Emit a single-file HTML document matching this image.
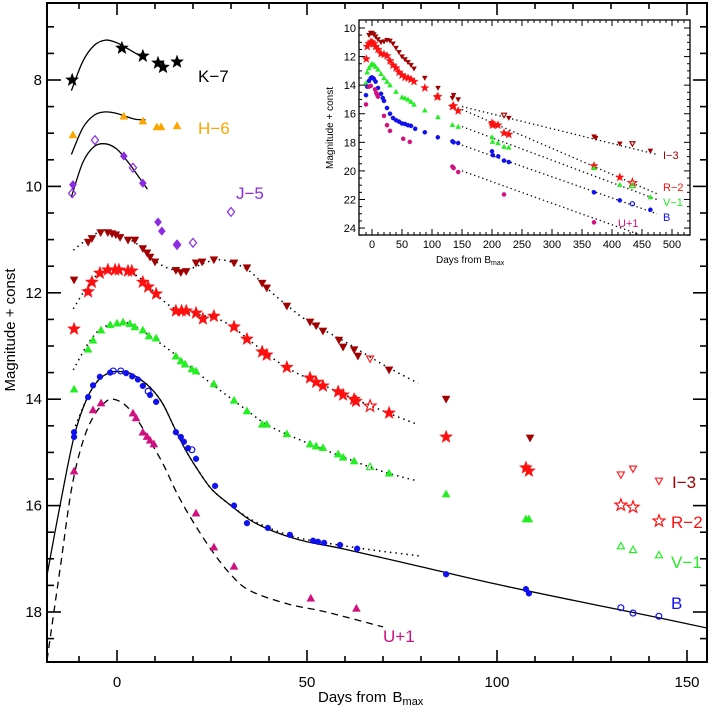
<!DOCTYPE html>
<html><head><meta charset="utf-8"><style>
html,body{margin:0;padding:0;background:#fff}
svg{display:block;font-family:"Liberation Sans",sans-serif}
</style></head><body>
<svg id="chart" width="710" height="709" viewBox="0 0 710 709" xmlns="http://www.w3.org/2000/svg">
<defs>
<clipPath id="mainClip"><rect x="47" y="3" width="660" height="659"/></clipPath>
<clipPath id="insetClip"><rect x="359" y="20" width="331" height="215"/></clipPath>
</defs>
<g id="main"></g>
<g id="inset"></g>
</svg>
<script>
// ---------- MAIN DATA ----------
const kDays=[-11.8,1.3,6.8,10.8,12.1,15.8];
const kMags=[8.0,7.4,7.55,7.68,7.76,7.66];
const kFitDays=[-12,-9,-6,-3,0,3,5,7];
const kFitMags=[8.2,7.65,7.35,7.25,7.3,7.42,7.5,7.55];
const hDays=[-11.6,1.8,6.8,10.5,11.6,15.8];
const hMags=[9.03,8.68,8.77,8.88,8.88,8.86];
const hFitDays=[-12,-9,-6,-3,0,3,5,7.5];
const hFitMags=[9.4,8.9,8.66,8.6,8.63,8.7,8.74,8.75];
const jDays=[-11.6,1.8,6.8,10.8,11.8,15.8];
const jMags=[9.97,9.43,9.94,10.67,10.84,11.08];
const jOpenDays=[-11.8,-5.8,4.2,15.8,20,30];
const jOpenMags=[10.13,9.13,9.65,11.1,11.06,10.48];
const jFitDays=[-12,-9,-6,-3,0,3,6,8];
const jFitMags=[10.2,9.55,9.25,9.2,9.3,9.55,9.85,10.05];

const iDays=[-11.3,-7.6,-6.6,-4.3,-2.4,-1.3,-0.3,0.8,2.9,4.7,6.8,7.9,8.7,10,15.5,16.8,18.2,20.8,22.4,25.5,30.8,34.2,38.2,39.4,44.7,50.8,52.4,54.2,58.4,59.5,62.4,63.4,71.6,86.6,108.7];
const iMags=[11.76,11.05,10.98,10.87,10.87,10.89,10.91,10.96,11.01,11.01,11.17,11.25,11.33,11.42,11.58,11.62,11.6,11.44,11.42,11.38,11.44,11.53,11.82,11.91,12.25,12.55,12.62,12.72,12.89,13.02,13.07,13.19,13.45,14.0,14.73];
const iOpenDays=[66.6,132.6,135.8];
const iOpenMags=[13.24,15.42,15.31];
const iFitDays=[-11.5,-8,-5,-2,2,6,10,14,18,22,26,30,35,40,45,50,60,70,79.2];
const iFitMags=[11.2,11.0,10.87,10.85,10.95,11.12,11.4,11.55,11.58,11.47,11.38,11.42,11.6,11.95,12.25,12.52,12.92,13.35,13.7];

const rDays=[-11.3,-7.6,-6.6,-4.5,-2.4,-0.5,0.5,2.9,3.9,6.8,8.2,10.3,15.5,17,18.2,20.8,22.6,25.5,30.8,34.2,38.2,39.4,44.7,50.8,52.4,54.2,58.2,59.5,62.4,62.9,71.6,86.6,107.6,108.4];
const rMags=[12.68,11.98,11.8,11.63,11.57,11.57,11.57,11.59,11.59,11.8,11.89,12.02,12.34,12.34,12.34,12.38,12.49,12.44,12.64,12.87,13.11,13.17,13.4,13.6,13.68,13.75,13.86,13.92,14.0,14.04,14.26,14.71,15.29,15.35];
const rOpenDays=[66.6,132.6,135.8];
const rOpenMags=[14.13,15.99,16.03];
const rFitDays=[-11.5,-8,-5,-2,2,6,10,14,18,22,26,30,35,40,45,50,55,60,70,79.2];
const rFitMags=[12.3,11.9,11.65,11.57,11.57,11.72,12.0,12.25,12.36,12.42,12.48,12.62,12.9,13.18,13.42,13.6,13.76,13.92,14.22,14.48];

const vDays=[-11.3,-7.6,-6.3,-4.2,-1.8,0,1.6,3.4,4.7,6.8,8.4,10.3,15.5,16.8,17.9,19.7,20.8,25.5,30.8,34.2,38.2,39.4,44.7,50.8,52.4,54.2,58.2,59.5,62.4,71.6,86.6,107.6,108.4];
const vMags=[13.81,13.06,12.89,12.7,12.6,12.57,12.55,12.58,12.64,12.7,12.81,12.85,13.19,13.28,13.34,13.43,13.47,13.71,14.02,14.22,14.47,14.47,14.65,14.84,14.88,14.91,15.03,15.09,15.16,15.39,15.78,16.25,16.25];
const vOpenDays=[66.6,132.6,135.8];
const vOpenMags=[15.27,16.76,16.83];
const vFitDays=[-11.5,-8,-5,-2,1,4,8,12,16,22,28,34,40,50,60,70,79.2];
const vFitMags=[13.45,13.0,12.72,12.6,12.55,12.6,12.78,12.98,13.2,13.55,13.88,14.2,14.5,14.82,15.1,15.36,15.54];

const bDays=[-11.3,-11.3,-7.6,-6.3,-4.5,-1.8,2.4,4,5.5,6.8,8.7,10.3,15.5,16.8,17.6,18.7,20.8,25.8,30.8,34.2,39.7,45.5,51.6,52.9,54.5,58.7,63.2,86.6,107.6,108.4];
const bMags=[14.62,14.71,13.96,13.74,13.58,13.5,13.51,13.57,13.63,13.75,13.92,14.05,14.62,14.71,14.8,14.92,15.12,15.63,16.0,16.33,16.42,16.55,16.66,16.68,16.7,16.74,16.81,17.29,17.57,17.65];
const bOpenDays=[-1,1,8.2,19.7,132.6,135.8,142.6];
const bOpenMags=[13.47,13.47,13.85,14.95,17.92,18.02,18.08];
const bFitDays=[-18.4,-15,-11.3,-8,-5,-2,0,3,6,9,12,15,18,21,25,30,35,40,45,50,60,80,100,120,140,155.3];
const bFitMags=[17.3,16.0,14.7,14.0,13.65,13.5,13.48,13.5,13.62,13.8,14.08,14.52,14.95,15.3,15.7,16.0,16.27,16.45,16.58,16.68,16.82,17.15,17.48,17.78,18.07,18.3];
const bDotDays=[-11.5,-8,-5,-2,0,3,6,9,12,15,18,21,25,30,35,40,45,50,60,70,80];
const bDotMags=[14.6,14.0,13.65,13.5,13.48,13.5,13.62,13.8,14.08,14.52,14.95,15.3,15.7,16.0,16.25,16.42,16.55,16.64,16.76,16.86,16.95];

const uDays=[-11.3,-6.3,-4.2,4.2,5,6.8,7.9,8.7,9.7,20.8,25.5,30.8,51,63];
const uMags=[15.35,14.2,14.07,14.26,14.35,14.62,14.7,14.77,14.84,16.14,16.78,17.14,17.74,17.93];
const uFitDays=[-18.4,-15,-12,-9,-6,-3,-1,2,5,8,12,16,20,25,30,35,45,55,70];
const uFitMags=[18.9,17.2,15.7,14.8,14.3,14.05,14.0,14.1,14.35,14.7,15.2,15.8,16.3,16.85,17.3,17.6,17.85,18.0,18.28];

const xTicksMajor=[0,50,100,150];
const yTicksMajor=[8,10,12,14,16,18];

// ---------- INSET DATA ----------
const insIDays=[-5,-2,0,3,6,10,15,20,25,30,35,40,45,50,55,60,65,70,88,110,134,136,143.6,228,370,373,413,464];
const insIMags=[10.5,10.35,10.35,10.45,10.6,10.8,11.0,10.95,10.85,10.9,11.1,11.4,11.7,12.0,12.2,12.4,12.6,12.85,13.5,14.2,14.9,14.7,15.0,16.3,17.6,17.7,18.1,18.6];
const insIOpenDays=[220,434];
const insIOpenMags=[16.1,18.1];
const insRDays=[-9.5,-8,-5,-2,0,3,6,10,15,20,25,30,35,40,45,50,55,60,65,70,88,108.6,110,134,136,143.6,200,201,203,210,220,228,370,413];
const insRMags=[12.17,11.3,11.1,11.0,11.0,11.1,11.3,11.5,11.8,11.85,11.95,12.3,12.6,12.8,13.1,13.3,13.45,13.5,13.6,13.75,14.2,14.83,14.8,15.5,15.45,15.8,16.65,16.8,16.75,16.8,17.35,17.45,19.65,20.45];
const insROpenDays=[434];
const insROpenMags=[20.85];
const insVDays=[-10,-8,-5,-2,0,3,6,10,15,20,25,30,40,50,55,60,65,70,88,110,134,143.6,200,201,210,220,228,370,413,464];
const insVMags=[13.85,13.1,12.8,12.6,12.5,12.55,12.7,12.9,13.2,13.5,13.75,14.0,14.45,14.85,14.9,15.0,15.15,15.35,15.76,16.23,16.77,16.9,17.63,17.95,18.05,18.3,18.35,19.8,20.97,21.83];
const insVOpenDays=[434];
const insVOpenMags=[21.03];
const insBDays=[-10,-8,-5,-2,0,3,6,10,15,18,20,25,30,35,40,45,50,55,60,65,72,88,109.7,134,136,143.6,200,201.4,210.4,220,228,370,413,464];
const insBMags=[14.7,14.1,13.7,13.5,13.45,13.55,13.75,14.2,14.6,14.9,15.1,15.6,16.0,16.3,16.45,16.55,16.68,16.72,16.8,16.85,17.05,17.3,17.65,17.93,18.0,18.05,18.63,18.9,18.98,19.28,19.38,21.5,22.06,22.72];
const insBOpenDays=[434];
const insBOpenMags=[22.3];
const insUDays=[-10,-5,-2,5,7,9,10,20,25,30,52,63,134,136,143.6,220,370];
const insUMags=[15.35,14.1,14.05,14.3,14.55,14.7,14.8,16.15,16.8,17.2,17.75,17.97,19.7,19.8,20.08,21.65,23.6];
const insFitStart=[150,150,150,150,150];
const insFitStartMags=[15.5,15.7,16.9,18.2,20.0];
const insFitEnd=[475,475,475,475,475];
const insFitEndMags=[18.85,21.6,22.0,23.0,24.9];
const insXTicks=[0,50,100,150,200,250,300,350,400,450,500];
const insYTicks=[10,12,14,16,18,20,22,24];

// ---------- SCALES ----------
const X=d=>117+3.8*d, Y=m=>80+53.2*(m-8);
const IX=d=>372+0.6*d, IY=m=>28+14.29*(m-10);
const NS='http://www.w3.org/2000/svg';
function mk(tag,attrs,parent){const e=document.createElementNS(NS,tag);for(const k in attrs)e.setAttribute(k,attrs[k]);parent.appendChild(e);return e;}

function starPts(cx,cy,r){let p=[];for(let i=0;i<10;i++){const a=-Math.PI/2+i*Math.PI/5;const rr=i%2?r*0.42:r;p.push((cx+rr*Math.cos(a)).toFixed(1)+','+(cy+rr*Math.sin(a)).toFixed(1));}return p.join(' ');}
function marker(parent,shape,cx,cy,s,color,open,name){
  let e;
  if(shape==='circle'){e=mk('circle',{cx:cx,cy:cy,r:s*0.42},parent);}
  else if(shape==='star'){e=mk('polygon',{points:starPts(cx,cy,s*0.62)},parent);}
  else if(shape==='up'){e=mk('polygon',{points:`${cx},${cy-s*0.5} ${cx-s*0.5},${cy+s*0.4} ${cx+s*0.5},${cy+s*0.4}`},parent);}
  else if(shape==='down'){e=mk('polygon',{points:`${cx},${cy+s*0.5} ${cx-s*0.5},${cy-s*0.4} ${cx+s*0.5},${cy-s*0.4}`},parent);}
  else {e=mk('polygon',{points:`${cx},${cy-s*0.55} ${cx-s*0.45},${cy} ${cx},${cy+s*0.55} ${cx+s*0.45},${cy}`},parent);}
  e.setAttribute('fill',open?'none':color);
  e.setAttribute('stroke',color);
  e.setAttribute('stroke-width',open?1.2:0.4);
  
  
  return e;
}
function series(parent,days,mags,shape,size,color,open,name,fx,fy){
  const g=mk('g',{},parent);
  
  
  days.forEach((d,i)=>marker(g,shape,fx(d),fy(mags[i]),size,color,open,name+'-point'));
}
function curve(parent,days,mags,dash,width,name,fx,fy,clip){
  const P=days.map((x,i)=>[fx(x),fy(mags[i])]);
  let d='M'+P[0][0].toFixed(1)+','+P[0][1].toFixed(1);
  for(let i=0;i<P.length-1;i++){
    const p0=P[Math.max(0,i-1)],p1=P[i],p2=P[i+1],p3=P[Math.min(P.length-1,i+2)];
    const c1=[p1[0]+(p2[0]-p0[0])/6,p1[1]+(p2[1]-p0[1])/6];
    const c2=[p2[0]-(p3[0]-p1[0])/6,p2[1]-(p3[1]-p1[1])/6];
    d+=' C'+c1[0].toFixed(1)+','+c1[1].toFixed(1)+' '+c2[0].toFixed(1)+','+c2[1].toFixed(1)+' '+p2[0].toFixed(1)+','+p2[1].toFixed(1);
  }
  const p=mk('path',{d:d,fill:'none',stroke:'#000','stroke-width':width,'stroke-dasharray':dash,'clip-path':clip},parent);
  
  
}
function label(parent,x,y,txt,color,size,name,anchor){
  const t=mk('text',{x:x,y:y,fill:color,'font-size':size,'text-anchor':anchor||'start'},parent);
  t.textContent=txt;
  
  
  return t;
}

// ---------- MAIN ----------
const M=document.getElementById('main');
const C={I:'#a00000',Io:'#ff2020',R:'#ff1010',V:'#22ee22',B:'#1010ee',U:'#d0107f',J:'#8a2be2',H:'#ffa500',K:'#000'};
curve(M,kFitDays,kFitMags,'',1.3,'k-fit-curve',X,Y,'url(#mainClip)');
curve(M,hFitDays,hFitMags,'',1.3,'h-fit-curve',X,Y,'url(#mainClip)');
curve(M,jFitDays,jFitMags,'',1.3,'j-fit-curve',X,Y,'url(#mainClip)');
curve(M,iFitDays,iFitMags,'1.5 4',1.5,'i-fit-curve',X,Y,'url(#mainClip)');
curve(M,rFitDays,rFitMags,'1.5 4',1.5,'r-fit-curve',X,Y,'url(#mainClip)');
curve(M,vFitDays,vFitMags,'1.5 4',1.5,'v-fit-curve',X,Y,'url(#mainClip)');
curve(M,bDotDays,bDotMags,'1.5 4',1.5,'b-dotted-curve',X,Y,'url(#mainClip)');
curve(M,bFitDays,bFitMags,'',1.3,'b-fit-curve',X,Y,'url(#mainClip)');
curve(M,uFitDays,uFitMags,'7 5',1.3,'u-fit-curve',X,Y,'url(#mainClip)');
series(M,kDays,kMags,'star',11,C.K,false,'k-band',X,Y);
series(M,hDays,hMags,'up',8,C.H,false,'h-band',X,Y);
series(M,jDays,jMags,'diamond',8,C.J,false,'j-band',X,Y);
series(M,jOpenDays,jOpenMags,'diamond',8,C.J,true,'j-band-open',X,Y);
series(M,iDays,iMags,'down',8,C.I,false,'i-band',X,Y);
series(M,iOpenDays,iOpenMags,'down',7,C.Io,true,'i-band-open',X,Y);
series(M,rDays,rMags,'star',11,C.R,false,'r-band',X,Y);
series(M,rOpenDays,rOpenMags,'star',10,C.R,true,'r-band-open',X,Y);
series(M,vDays,vMags,'up',8,C.V,false,'v-band',X,Y);
series(M,vOpenDays,vOpenMags,'up',7,C.V,true,'v-band-open',X,Y);
series(M,bDays,bMags,'circle',7,C.B,false,'b-band',X,Y);
series(M,bOpenDays,bOpenMags,'circle',7,C.B,true,'b-band-open',X,Y);
series(M,uDays,uMags,'up',8,C.U,false,'u-band',X,Y);
marker(M,'down',659,481,7,C.Io,true,'legend-i-marker');
marker(M,'star',659,521,10,C.R,true,'legend-r-marker');
marker(M,'up',659,555,7,C.V,true,'legend-v-marker');
label(M,672,488,'I−3',C.I,17,'label-i-3');
label(M,671,528,'R−2',C.R,17,'label-r-2');
label(M,671,568,'V−1',C.V,17,'label-v-1');
label(M,671,609,'B',C.B,17,'label-b');
label(M,383,642,'U+1',C.U,17,'label-u+1');
label(M,198,82,'K−7',C.K,17,'label-k-7');
label(M,198,134,'H−6',C.H,17,'label-h-6');
label(M,236,199,'J−5',C.J,17,'label-j-5');
mk('rect',{x:47,y:3,width:660,height:659,fill:'none',stroke:'#000','stroke-width':2},M);
for(let d=-10;d<=150;d+=10){
  const maj=d%50===0, L=maj?12:6;
  mk('line',{x1:X(d),x2:X(d),y1:662,y2:662-L,stroke:'#000','stroke-width':1.6},M);
  mk('line',{x1:X(d),x2:X(d),y1:3,y2:3+L,stroke:'#000','stroke-width':1.6},M);
}
xTicksMajor.forEach(d=>label(M,X(d),687,String(d),'#000',15,'x-tick-label','middle'));
for(let m=7;m<=18.5;m+=0.5){
  const maj=m%2===0, L=maj?14:7;
  mk('line',{x1:47,x2:47+L,y1:Y(m),y2:Y(m),stroke:'#000','stroke-width':1.6},M);
  mk('line',{x1:707,x2:707-L,y1:Y(m),y2:Y(m),stroke:'#000','stroke-width':1.6},M);
}
yTicksMajor.forEach(m=>label(M,42,Y(m)+5,String(m),'#000',15,'y-tick-label','end'));
const xt=label(M,318,702,'Days from  ','#000',15,'x-axis-title');
const xs=mk('tspan',{dx:2,'font-size':15},xt);xs.textContent='B';
const xs2=mk('tspan',{'font-size':11,dy:3},xt);xs2.textContent='max';
const yt=label(M,0,0,'Magnitude + const','#000',15,'y-axis-title','middle');
yt.setAttribute('transform','translate(15,330) rotate(-90)');

// ---------- INSET ----------
const N=document.getElementById('inset');
mk('rect',{x:359,y:20,width:331,height:215,fill:'#fff',stroke:'none'},N);
for(let k=0;k<5;k++){
  curve(N,[insFitStart[k],insFitEnd[k]],[insFitStartMags[k],insFitEndMags[k]],'1.3 3',1.3,'inset-fit-line',IX,IY,'url(#insetClip)');
}
series(N,insIDays,insIMags,'down',5,C.I,false,'inset-i',IX,IY);
series(N,insIOpenDays,insIOpenMags,'down',5,C.I,true,'inset-i-open',IX,IY);
series(N,insRDays,insRMags,'star',7,C.R,false,'inset-r',IX,IY);
series(N,insROpenDays,insROpenMags,'star',7,C.R,true,'inset-r-open',IX,IY);
series(N,insVDays,insVMags,'up',5,C.V,false,'inset-v',IX,IY);
series(N,insVOpenDays,insVOpenMags,'up',5,C.V,true,'inset-v-open',IX,IY);
series(N,insBDays,insBMags,'circle',5,C.B,false,'inset-b',IX,IY);
series(N,insBOpenDays,insBOpenMags,'circle',5,C.B,true,'inset-b-open',IX,IY);
series(N,insUDays,insUMags,'circle',5,C.U,false,'inset-u',IX,IY);
mk('rect',{x:359,y:20,width:331,height:215,fill:'none',stroke:'#000','stroke-width':1.3},N);
for(let d=-10;d<=520;d+=10){
  const maj=d%50===0, L=maj?6:3;
  mk('line',{x1:IX(d),x2:IX(d),y1:235,y2:235-L,stroke:'#000','stroke-width':1},N);
  mk('line',{x1:IX(d),x2:IX(d),y1:20,y2:20+L,stroke:'#000','stroke-width':1},N);
}
insXTicks.forEach(d=>label(N,IX(d),248,String(d),'#000',11,'inset-x-tick-label','middle'));
for(let m=10;m<=24.5;m+=0.5){
  const maj=m%2===0, L=maj?6:3;
  mk('line',{x1:359,x2:359+L,y1:IY(m),y2:IY(m),stroke:'#000','stroke-width':1},N);
  mk('line',{x1:690,x2:690-L,y1:IY(m),y2:IY(m),stroke:'#000','stroke-width':1},N);
}
insYTicks.forEach(m=>label(N,356,IY(m)+4,String(m),'#000',11,'inset-y-tick-label','end'));
const it=label(N,436,263,'Days from B','#000',10,'inset-x-axis-title');
const its=mk('tspan',{'font-size':7,dy:2},it);its.textContent='max';
const iy=label(N,0,0,'Magnitude + const','#000',10,'inset-y-axis-title','middle');
iy.setAttribute('transform','translate(333,128) rotate(-90)');
label(N,663,159,'I−3',C.I,11,'inset-label-i-3');
label(N,663,191,'R−2',C.R,11,'inset-label-r-2');
label(N,663,206,'V−1',C.V,11,'inset-label-v-1');
label(N,663,221,'B',C.B,11,'inset-label-b');
label(N,618,227,'U+1',C.U,11,'inset-label-u+1');
</script>
</body></html>
